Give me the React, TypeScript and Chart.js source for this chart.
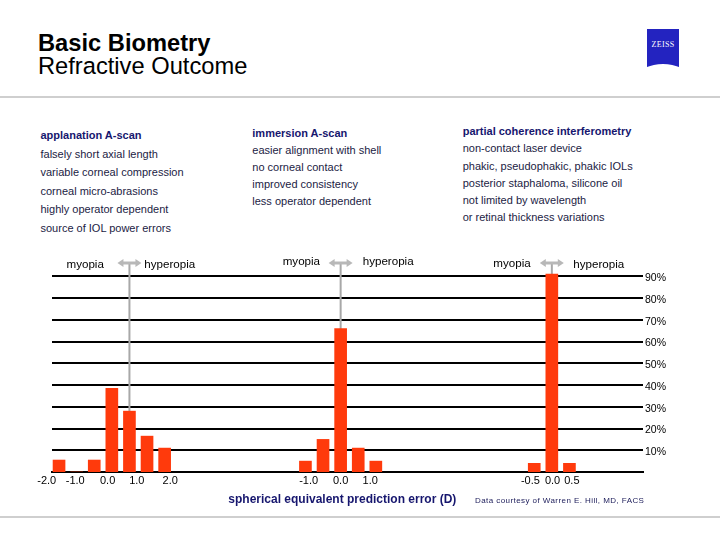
import React, { useEffect, useRef } from "react";
import { Chart, registerables } from "chart.js";

Chart.register(...registerables);

const FONT = '"Liberation Sans", Arial, Helvetica, sans-serif';

// ---------- data ----------
const panelTitles = ["applanation A-scan", "immersion A-scan", "partial coherence interferometry"];
const panel1Notes = [
  "falsely short axial length",
  "variable corneal compression",
  "corneal micro-abrasions",
  "highly operator dependent",
  "source of IOL power errors",
];
const panel2Notes = ["easier alignment with shell", "no corneal contact", "improved consistency", "less operator dependent"];
const panel3Notes = [
  "non-contact laser device",
  "phakic, pseudophakic, phakic IOLs",
  "posterior staphaloma, silicone oil",
  "not limited by wavelength",
  "or retinal thickness variations",
];

// axis value where each panel's 0.0 D bin sits
const panelZero = [2, 8, 14];

// prediction error bins (D) and share of eyes (%)
const bins1 = [-2.0, -1.5, -1.0, -0.5, 0.0, 0.5, 1.0];
const values1 = [5.5, 0, 5.5, 38.5, 28, 16.5, 11];
const bins2 = [-1.0, -0.5, 0.0, 0.5, 1.0];
const values2 = [5, 15, 66, 11, 5];
const bins3 = [-0.5, 0.0, 0.5];
const values3 = [4, 91, 4];

const yTicks = [10, 20, 30, 40, 50, 60, 70, 80, 90];
const xTickLabels = ["-2.0", "-1.0", "0.0", "1.0", "2.0", "-1.0", "0.0", "1.0", "-0.5", "0.0", "0.5"];
const xTickValues = [-0.35, 0.46, 1.38, 2.21, 3.16, 7.09, 8.0, 8.84, 13.39, 14.02, 14.57];

const BAR_COLOR = "#ff3a0c";

// ---------- helpers ----------
function T(props: {
  x: number;
  base: number;
  size: number;
  text: string;
  bold?: boolean;
  color?: string;
  ls?: number;
}) {
  const { x, base, size, text, bold, color, ls } = props;
  return (
    <div
      style={{
        position: "absolute",
        left: x,
        top: base - 0.8465 * size,
        fontSize: size,
        lineHeight: `${size}px`,
        fontWeight: bold ? 700 : 400,
        color: color || "#000",
        whiteSpace: "nowrap",
        letterSpacing: ls ? `${ls}px` : undefined,
        fontFamily: FONT,
      }}
    >
      {text}
    </div>
  );
}

const markerPlugin = {
  id: "zeroMarkers",
  beforeDatasetsDraw(chart: any) {
    const { ctx, chartArea, scales } = chart;
    const xs = scales.x;
    const ys = scales.y;
    const yBase = ys.getPixelForValue(0);
    const yArrow = chartArea.top - 9;
    ctx.save();
    panelZero.forEach((z) => {
      const px = xs.getPixelForValue(z);
      ctx.strokeStyle = "#a8a8a8";
      ctx.lineWidth = 2;
      ctx.beginPath();
      ctx.moveTo(px, yArrow);
      ctx.lineTo(px, yBase);
      ctx.stroke();
      ctx.strokeStyle = "#b8b8b8";
      ctx.fillStyle = "#b8b8b8";
      ctx.lineWidth = 3;
      ctx.beginPath();
      ctx.moveTo(px - 7, yArrow);
      ctx.lineTo(px + 7, yArrow);
      ctx.stroke();
      ctx.beginPath();
      ctx.moveTo(px - 12, yArrow);
      ctx.lineTo(px - 6, yArrow - 4);
      ctx.lineTo(px - 6, yArrow + 4);
      ctx.closePath();
      ctx.fill();
      ctx.beginPath();
      ctx.moveTo(px + 12, yArrow);
      ctx.lineTo(px + 6, yArrow - 4);
      ctx.lineTo(px + 6, yArrow + 4);
      ctx.closePath();
      ctx.fill();
    });
    ctx.restore();
  },
};

function BarsChart() {
  const ref = useRef<HTMLCanvasElement | null>(null);
  useEffect(() => {
    if (!ref.current) return;
    const mk = (bins: number[], vals: number[], z: number) =>
      bins.map((b, i) => ({ x: z + b, y: vals[i] }));
    const chart = new Chart(ref.current, {
      type: "bar",
      data: {
        datasets: [
          { data: mk(bins1, values1, panelZero[0]) as any, backgroundColor: BAR_COLOR },
          { data: mk(bins2, values2, panelZero[1]) as any, backgroundColor: BAR_COLOR },
          { data: mk(bins3, values3, panelZero[2]) as any, backgroundColor: BAR_COLOR },
        ],
      },
      options: {
        animation: false,
        responsive: false,
        devicePixelRatio: 1,
        layout: { padding: { left: 52, right: 47, top: 32, bottom: 28 } },
        plugins: { legend: { display: false }, tooltip: { enabled: false } },
        datasets: { bar: { grouped: false, barThickness: 12 } as any },
        scales: {
          x: {
            type: "linear",
            offset: false,
            min: -0.2,
            max: 16.59,
            grid: { display: false, drawTicks: false, offset: false },
            border: { display: true, color: "#000", width: 2 },
            afterBuildTicks: (s: any) => {
              s.ticks = xTickValues.map((v) => ({ value: v }));
            },
            afterFit: (s: any) => {
              s.height = 20;
            },
            ticks: {
              autoSkip: false,
              maxRotation: 0,
              padding: 2,
              color: "#000",
              font: { family: FONT, size: 11 },
              callback: (_v: any, i: number) => xTickLabels[i],
            },
          },
          y: {
            position: "right",
            min: 0,
            max: 92,
            grid: { color: "#000", lineWidth: 2, drawTicks: false },
            border: { display: false },
            afterBuildTicks: (s: any) => {
              s.ticks = yTicks.map((v) => ({ value: v }));
            },
            afterFit: (s: any) => {
              s.width = 30;
            },
            ticks: {
              padding: 2,
              labelOffset: 2,
              color: "#000",
              font: { family: FONT, size: 10.5 },
              callback: (v: any) => `${v}%`,
            },
          },
        } as any,
      },
      plugins: [markerPlugin],
    });
    return () => chart.destroy();
  }, []);
  return (
    <canvas
      ref={ref}
      width={720}
      height={280}
      style={{ position: "absolute", left: 0, top: 240, width: 720, height: 280 }}
    />
  );
}

export default function App() {
  const NAVY = "#16166e";
  const BODY = "#1c1c44";
  return (
    <div
      style={{
        position: "absolute",
        left: 0,
        top: 0,
        width: 720,
        height: 540,
        background: "#fff",
        overflow: "hidden",
        fontFamily: FONT,
      }}
    >
      <T x={38} base={51.7} size={23.7} text="Basic Biometry" bold />
      <T x={38} base={75} size={23.7} text="Refractive Outcome" />

      {/* logo */}
      <div
        style={{
          position: "absolute",
          left: 647,
          top: 29,
          width: 32,
          height: 39,
          background: "#2323c0",
          overflow: "hidden",
        }}
      >
        <div
          style={{
            position: "absolute",
            left: 0,
            width: 32,
            top: 12,
            textAlign: "center",
            color: "#fff",
            fontFamily: '"Liberation Serif", "DejaVu Serif", serif',
            fontSize: 8,
            lineHeight: "8px",
            letterSpacing: "0.3px",
          }}
        >
          ZEISS
        </div>
        <div
          style={{
            position: "absolute",
            left: -8,
            width: 48,
            top: 35,
            height: 24,
            borderRadius: "50%",
            background: "#fff",
          }}
        />
      </div>

      <div style={{ position: "absolute", left: 0, top: 96, width: 720, height: 2, background: "#cfcfcf" }} />
      <div style={{ position: "absolute", left: 0, top: 516, width: 720, height: 2, background: "#cfcfcf" }} />

      {/* panel notes */}
      <T x={40.5} base={139.5} size={11} text={panelTitles[0]} bold color={NAVY} />
      {panel1Notes.map((t, i) => (
        <T key={"a" + i} x={40.5} base={158 + i * 18.6} size={11} text={t} color={BODY} />
      ))}
      <T x={252.3} base={137.3} size={11} text={panelTitles[1]} bold color={NAVY} />
      {panel2Notes.map((t, i) => (
        <T key={"b" + i} x={252.3} base={154.5 + i * 17.1} size={11} text={t} color={BODY} />
      ))}
      <T x={462.7} base={135.7} size={11} text={panelTitles[2]} bold color={NAVY} />
      {panel3Notes.map((t, i) => (
        <T key={"c" + i} x={462.7} base={152.8 + i * 17.25} size={11} text={t} color={BODY} />
      ))}

      <BarsChart />

      {/* direction labels */}
      <T x={66.5} base={268.3} size={11.6} text="myopia" />
      <T x={144.3} base={267.5} size={11.6} text="hyperopia" />
      <T x={282.7} base={264.5} size={11.6} text="myopia" />
      <T x={362.7} base={265.2} size={11.6} text="hyperopia" />
      <T x={493.3} base={266.7} size={11.6} text="myopia" />
      <T x={573.3} base={268.2} size={11.6} text="hyperopia" />

      <T x={228.3} base={503.5} size={12} text="spherical equivalent prediction error (D)" bold color={NAVY} />
      <T x={475} base={503.3} size={8} text="Data courtesy of Warren E. Hill, MD, FACS" color="#1c1c5a" ls={0.43} />
    </div>
  );
}
